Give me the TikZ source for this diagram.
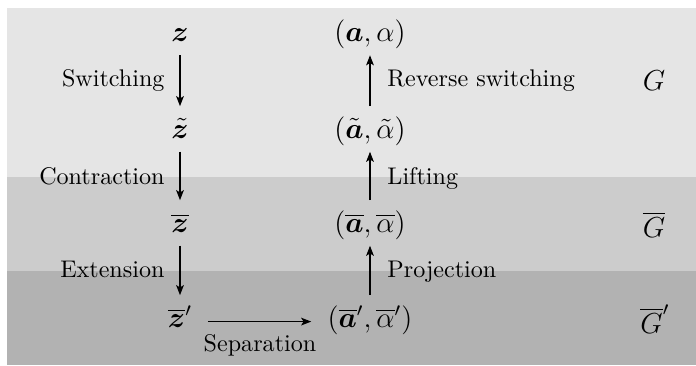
\documentclass[tikz,border=0pt]{standalone}
\usepackage{amsmath,bm}
\usetikzlibrary{arrows.meta}
\begin{document}
\begin{tikzpicture}[x=0.415pt,y=-0.415pt,
  mathnode/.style={anchor=base,inner sep=0pt,text height=13pt,text depth=5.5pt,font=\large},
  glab/.style={inner sep=0pt,anchor=base,font=\large},
  lab/.style={inner sep=0pt},
  arr/.style={-{Stealth[length=4.2pt,width=3.2pt,inset=1pt]},line width=0.5pt}]
\useasboundingbox (0,0) rectangle (696,365);
\fill[black!10] (7,8) rectangle (696,177);
\fill[black!20] (7,177) rectangle (696,271);
\fill[black!30] (7,271) rectangle (696,365);
% left column
\node[mathnode] (z)   at (180,41.5) {$\boldsymbol{z}$};
\node[mathnode] (zt)  at (180,138) {$\tilde{\boldsymbol{z}}$};
\node[mathnode] (zb)  at (180,232) {$\overline{\boldsymbol{z}}$};
\node[mathnode] (zbp) at (180,327) {$\overline{\boldsymbol{z}}'$};
% right column
\node[mathnode] (a)   at (370,41.5) {$(\boldsymbol{a},\alpha)$};
\node[mathnode] (at)  at (370,138) {$(\tilde{\boldsymbol{a}},\tilde{\alpha})$};
\node[mathnode] (ab)  at (370,232) {$(\overline{\boldsymbol{a}},\overline{\alpha})$};
\node[mathnode] (abp) at (370,327) {$(\overline{\boldsymbol{a}}',\overline{\alpha}')$};
% graph labels
\node[glab] (g1) at (654,90) {$G$};
\node[glab] (g2) at (654,237) {$\overline{G}$};
\node[glab] (g3) at (655,333) {$\overline{G}'$};
% arrows
\draw[arr] (z) -- (zt);
\draw[arr] (zt) -- (zb);
\draw[arr] (zb) -- (zbp);
\draw[arr] (at) -- (a);
\draw[arr] (ab) -- (at);
\draw[arr] (abp) -- (ab);
\draw[arr,shorten <=6.4pt,shorten >=6.6pt] ([yshift=-1.5pt]zbp.east) -- ([yshift=-1.5pt]abp.west);
% arrow labels
\node[lab,anchor=base east] (l1) at (165,86) {Switching};
\node[lab,anchor=base east] (l2) at (165,184) {Contraction};
\node[lab,anchor=base east] (l3) at (165,277) {Extension};
\node[lab,anchor=base west] (r1) at (387,86) {Reverse switching};
\node[lab,anchor=base west] (r2) at (387,184) {Lifting};
\node[lab,anchor=base west] (r3) at (387,277) {Projection};
\node[lab,anchor=base] (sep) at (260,351) {Separation};
\end{tikzpicture}
\end{document}
